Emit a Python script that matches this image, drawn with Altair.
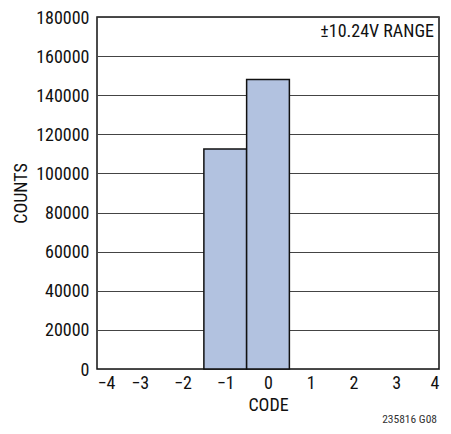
import altair as alt
import pandas as pd

codes = [-1, 0]
counts = [112500, 148000]
x_ticks = [-4, -3, -2, -1, 0, 1, 2, 3, 4]
y_ticks = [0, 20000, 40000, 60000, 80000, 100000, 120000, 140000, 160000, 180000]
range_label = "±10.24V RANGE"
figure_id = "235816 G08"

FONT = "Roboto Condensed, Arial Narrow, Roboto, sans-serif"
FS = 18

df = pd.DataFrame({"code": codes, "count": counts})

W, H = 342, 352

bars = alt.Chart(df).transform_calculate(
    lo="datum.code - 0.5", hi="datum.code + 0.5"
).mark_rect(fill="#B2C2E0", stroke="#111111", strokeWidth=1.5).encode(
    x=alt.X("lo:Q", scale=alt.Scale(domain=[-4, 4], nice=False),
            axis=alt.Axis(values=x_ticks, title="CODE", grid=False, ticks=False,
                          domain=False, labelPadding=5, titlePadding=4,
                          labelExpr="datum.value < 0 ? '\u2212' + abs(datum.value) : datum.label",
                          labelFontSize=FS, titleFontSize=FS, labelFont=FONT,
                          titleFont=FONT, titleFontWeight="normal",
                          labelColor="#111", titleColor="#111")),
    x2="hi:Q",
    y=alt.Y("count:Q", scale=alt.Scale(domain=[0, 180000], nice=False),
            axis=alt.Axis(values=y_ticks, title="COUNTS", format="d", grid=True,
                          gridColor="#444", gridWidth=1, ticks=False, domain=False,
                          labelPadding=8, titlePadding=5, labelOffset=1,
                          labelFontSize=FS, titleFontSize=FS, labelFont=FONT,
                          titleFont=FONT, titleFontWeight="normal",
                          labelColor="#111", titleColor="#111")),
    y2=alt.datum(0),
)

label = alt.Chart(pd.DataFrame({"t": [range_label]})).mark_text(
    align="right", baseline="middle", fontSize=FS, font=FONT, color="#111"
).encode(x=alt.value(W - 5), y=alt.value(15), text="t:N")

fig = alt.Chart(pd.DataFrame({"t": [figure_id]})).mark_text(
    align="right", baseline="middle", fontSize=11.5, font=FONT, color="#333"
).encode(x=alt.value(W - 2), y=alt.value(H + 51), text="t:N")

chart = alt.layer(bars, label, fig).properties(
    width=W, height=H,
    autosize=alt.AutoSizeParams(type="none"),
    padding={"left": 89, "top": 9, "right": 4, "bottom": 57},
).configure(background="white").configure_view(stroke="#111111", strokeWidth=1.5)

chart.save("out.html", embed_options={"renderer": "svg", "actions": False})
